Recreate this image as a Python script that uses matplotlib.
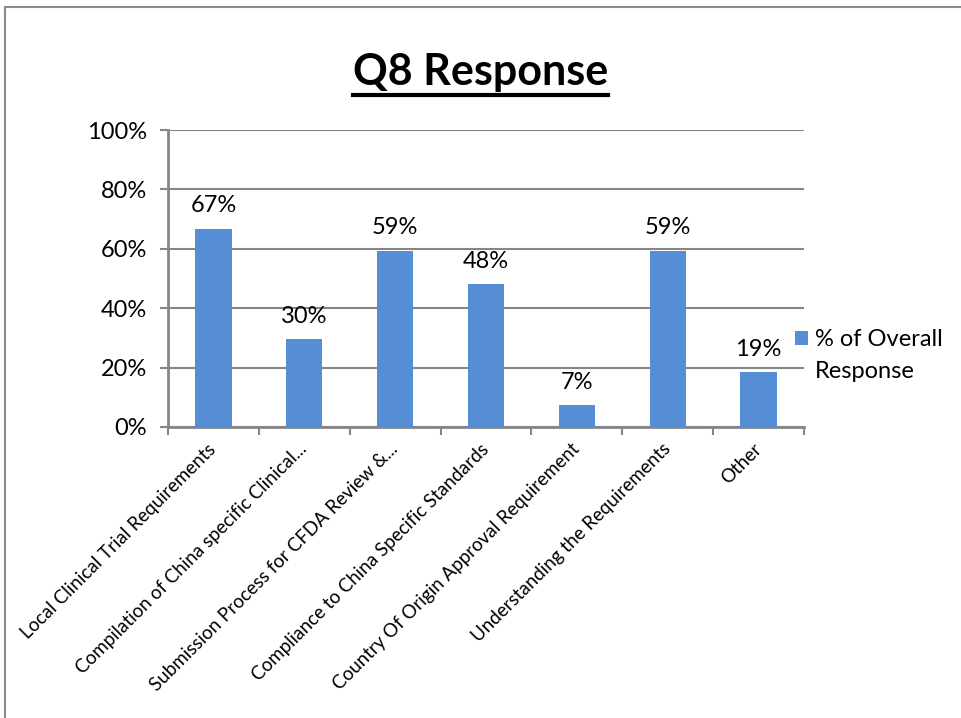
import matplotlib.pyplot as plt
from matplotlib.patches import Rectangle
from matplotlib.ticker import PercentFormatter, MultipleLocator

plt.rcParams['font.family'] = ['Lato', 'DejaVu Sans']

# données du graphique
categories = [
    "Local Clinical Trial Requirements",
    "Compilation of China specific Clinical...",
    "Submission Process for CFDA Review &...",
    "Compliance to China Specific Standards",
    "Country Of Origin Approval Requirement",
    "Understanding the Requirements",
    "Other",
]
values = [0.667, 0.296, 0.593, 0.481, 0.074, 0.593, 0.185]
labels = ["67%", "30%", "59%", "48%", "7%", "59%", "19%"]
series_name = ["% of Overall", "Response"]

bar_color = "#558ED5"
grid_color = "#868686"

fig = plt.figure(figsize=(9.61, 7.18), dpi=100)
ax = fig.add_axes([0.1748, 0.4053, 0.6618, 0.4136])

x = range(len(categories))
bars = ax.bar(x, values, width=0.4, color=bar_color, label=series_name[0], zorder=3)

# étiquettes de données au-dessus des barres
for b, lab in zip(bars, labels):
    ax.annotate(lab, (b.get_x() + b.get_width() / 2, b.get_height()),
                xytext=(0, 9), textcoords="offset points",
                ha="center", va="bottom", fontsize=17)

ax.set_xlim(-0.5, len(categories) - 0.5)
ax.set_ylim(0, 1)
ax.yaxis.set_major_locator(MultipleLocator(0.2))
ax.yaxis.set_major_formatter(PercentFormatter(1.0, decimals=0))
ax.grid(axis="y", color=grid_color, linewidth=1.5, zorder=0)

ax.set_xticks(list(x))
ax.set_xticklabels(categories, rotation=45, ha="right", va="center",
                   rotation_mode="anchor", fontsize=13.5)
ax.tick_params(axis="x", length=0, pad=14)
# petites graduations entre les catégories
ax.set_xticks([i - 0.5 for i in range(len(categories) + 1)], minor=True)
ax.tick_params(axis="x", which="minor", length=6, width=1.5, color=grid_color)
ax.tick_params(axis="y", length=6, width=1.5, color=grid_color, labelsize=17, pad=9)

for side in ["top", "right"]:
    ax.spines[side].set_visible(False)
for side in ["left", "bottom"]:
    ax.spines[side].set_color(grid_color)
    ax.spines[side].set_linewidth(2)

leg = ax.legend(loc="upper left", bbox_to_anchor=(0.986, 0.33), frameon=False, fontsize=17,
                handlelength=0.55, handleheight=0.55, handletextpad=0.3, borderaxespad=0,
                borderpad=0)

# titre souligné
title = fig.text(0.5, 0.8816, "Q8 Response", ha="center", va="baseline",
                 fontsize=31, fontweight="bold")
fig.canvas.draw()
bb = title.get_window_extent().transformed(fig.transFigure.inverted())
fig.add_artist(plt.Line2D([bb.x0, bb.x1], [0.8677, 0.8677], color="black", linewidth=3))

# deuxième ligne de la légende, sous la première
lb = leg.get_texts()[0].get_window_extent().transformed(fig.transFigure.inverted())
fig.text(lb.x0, lb.y0 - 32 / 718, series_name[1], fontsize=17, ha="left", va="bottom")

# cadre du graphique
fig.add_artist(Rectangle((5 / 961, -0.1), 1.2, 1 - 7 / 718 + 0.1, transform=fig.transFigure,
                         fill=False, edgecolor="#8c8c8c", linewidth=1.5))

fig.savefig("out.png", dpi=100)
